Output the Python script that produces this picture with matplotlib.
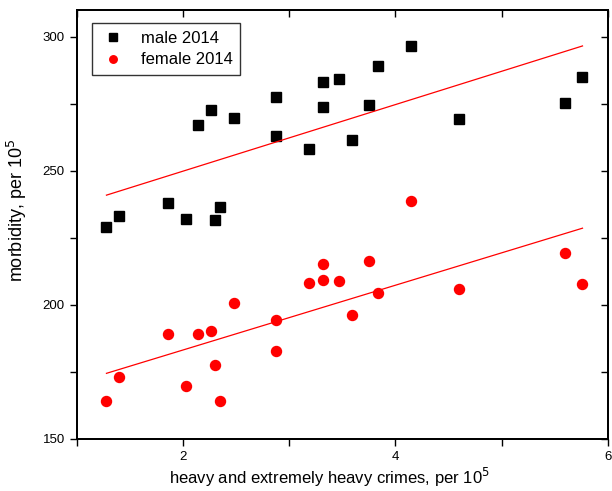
import numpy as np
import matplotlib
matplotlib.use("Agg")
import matplotlib.pyplot as plt
from matplotlib.ticker import MultipleLocator

plt.rcParams['font.family'] = ['Liberation Sans', 'DejaVu Sans']

# heavy and extremely heavy crimes per 10^5 (one value per region)
crimes = [1.28, 1.40, 1.86, 2.03, 2.14, 2.26, 2.30, 2.35, 2.48, 2.88, 2.88,
          3.19, 3.32, 3.32, 3.47, 3.59, 3.75, 3.84, 4.15, 4.60, 5.60, 5.76]

# morbidity per 10^5, by sex (same order as crimes)
male_2014 = [229.1, 233.2, 237.8, 232.0, 267.1, 272.6, 231.5, 236.3, 269.7, 277.5, 262.8,
             258.0, 283.2, 273.8, 284.0, 261.3, 274.5, 289.1, 296.5, 269.2, 275.3, 285.0]
female_2014 = [164.1, 173.1, 189.0, 169.7, 189.0, 190.3, 177.4, 164.1, 200.7, 194.5, 182.7,
               208.0, 215.4, 209.2, 208.8, 196.4, 216.3, 204.5, 238.8, 205.9, 219.2, 207.8]

x = np.array(crimes)
ym = np.array(male_2014)
yf = np.array(female_2014)

fig = plt.figure(figsize=(6.12, 4.91), dpi=100)
ax_w, ax_h = 608 - 76.7, 439 - 9.7
ax = fig.add_axes([76.7 / 612, 1 - 439 / 491, ax_w / 612, ax_h / 491])

ax.plot(x, ym, linestyle='none', marker='s', markersize=7, color='black', label='male 2014')
ax.plot(x, yf, linestyle='none', marker='o', markersize=7.2, color='red', label='female 2014')

# linear regression lines
xs = np.array([x.min(), x.max()])
for y in (ym, yf):
    k, b = np.polyfit(x, y, 1)
    ax.plot(xs, k * xs + b, color='red', linewidth=0.9)

ax.set_xlim(1, 6)
ax.set_ylim(150, 310)
ax.xaxis.set_major_locator(MultipleLocator(2))
ax.xaxis.set_minor_locator(MultipleLocator(1))
ax.yaxis.set_major_locator(MultipleLocator(50))
ax.yaxis.set_minor_locator(MultipleLocator(25))

ax.tick_params(axis='both', which='both', direction='out', top=False, right=False,
               labelsize=9.5, width=1, length=5)

# inward ticks on the top and right edges
ax2 = ax.twinx()
ax2.set_ylim(ax.get_ylim())
ax2.yaxis.set_major_locator(MultipleLocator(50))
ax2.yaxis.set_minor_locator(MultipleLocator(25))
ax2.tick_params(axis='y', which='both', direction='in', length=5, labelright=False, width=1)
ax3 = ax.twiny()
ax3.set_xlim(ax.get_xlim())
ax3.xaxis.set_major_locator(MultipleLocator(2))
ax3.xaxis.set_minor_locator(MultipleLocator(1))
ax3.tick_params(axis='x', which='both', direction='in', length=5, labeltop=False, width=1)

for a in (ax, ax2, ax3):
    for s in a.spines.values():
        s.set_linewidth(1.2)

ax.set_xlabel('heavy and extremely heavy crimes, per 10$^5$', fontsize=12)
ax.xaxis.set_label_coords((329 - 76.7) / ax_w, -(484 - 439) / ax_h)
ax.xaxis.label.set_va('baseline')
ax.set_ylabel('morbidity, per 10$^5$', fontsize=13)
ax.yaxis.set_label_coords(-(76.7 - 29) / ax_w, (439 - 210) / ax_h)

leg = ax.legend(loc='upper left', bbox_to_anchor=(15 / ax_w, 1 - 13.6 / ax_h),
                borderaxespad=0, fontsize=12, frameon=True, fancybox=False,
                edgecolor='black', markerscale=0.75, handletextpad=0.9,
                borderpad=0.45, labelspacing=0.4, handlelength=1.6)
leg.get_frame().set_linewidth(1.0)

fig.savefig('out.png', dpi=100)
